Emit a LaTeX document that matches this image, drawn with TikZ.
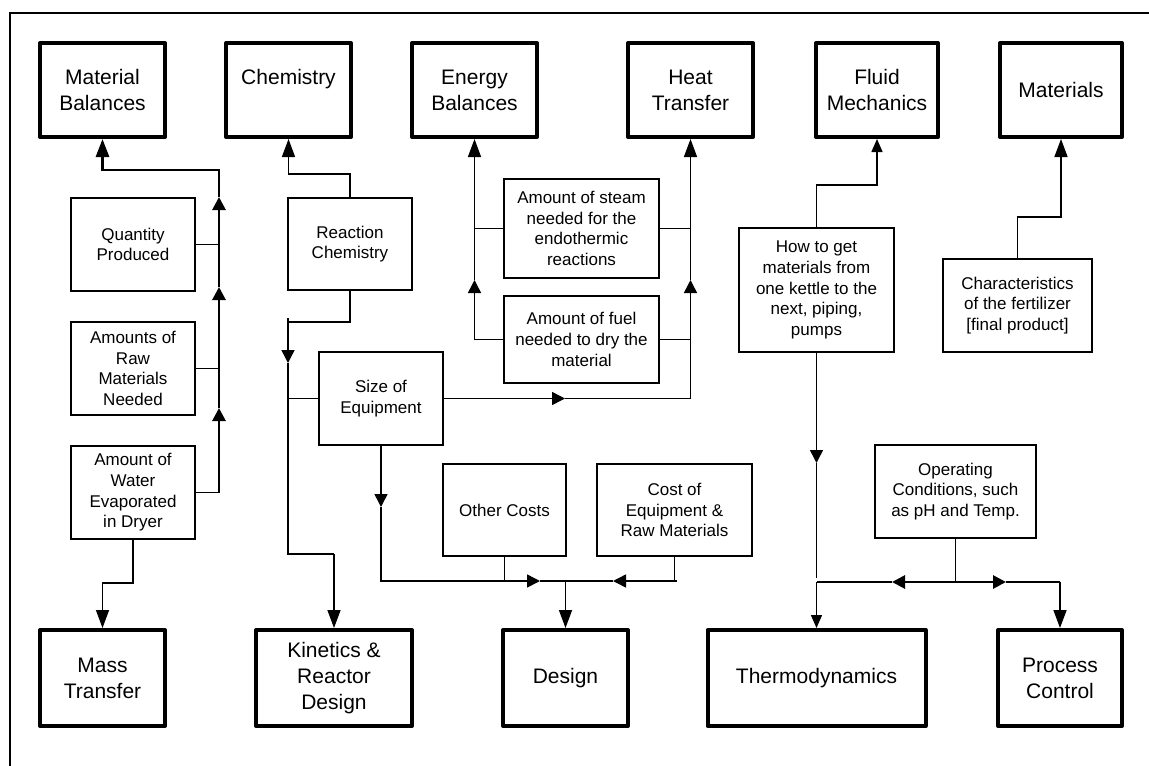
\documentclass[tikz,border=0pt]{standalone}
\usepackage{fontspec}
\setmainfont{Liberation Sans}
\usetikzlibrary{arrows.meta}
\newcommand\fbig{\fontsize{21}{26}\selectfont}
\newcommand\fsmall{\fontsize{17}{20.7}\selectfont}
\begin{document}
\begin{tikzpicture}[x=1pt,y=-1pt,
  bigbox/.style={draw=black, line width=4pt, line join=round, align=center, font=\fbig, inner sep=0pt},
  smallbox/.style={draw=black, line width=1.5pt, align=center, font=\fsmall, inner sep=0pt},
  conn/.style={line width=1.5pt},
  thickconn/.style={line width=2.8pt},
  endarr/.style={-{Triangle[length=18pt,width=13pt]}},
  smallendarr/.style={-{Triangle[length=13pt,width=11pt]}},
  midarr/.style={-{Triangle[length=13pt,width=13pt]}},
]
\useasboundingbox (0,0) rectangle (1149,766);
\fill[white] (0,0) rectangle (1149,766);
\draw[line width=2pt] (10,766) -- (10,13) -- (1149,13);

% top boxes
\node[bigbox, minimum width=125pt, minimum height=94pt] (MB) at (102.5,90) {Material\\Balances};
\node[bigbox, minimum width=125pt, minimum height=94pt] (Chem) at (288.5,90) {Chemistry\\\mbox{}};
\node[bigbox, minimum width=125pt, minimum height=94pt] (EB) at (474.5,90) {Energy\\Balances};
\node[bigbox, minimum width=125pt, minimum height=94pt] (HT) at (690.5,90) {Heat\\Transfer};
\node[bigbox, minimum width=122pt, minimum height=94pt] (FM) at (877,90) {Fluid\\Mechanics};
\node[bigbox, minimum width=122pt, minimum height=94pt] (Mat) at (1061,90) {Materials};

% bottom boxes
\node[bigbox, minimum width=125pt, minimum height=96pt] (Mass) at (102.5,678) {Mass\\Transfer};
\node[bigbox, minimum width=156pt, minimum height=96pt] (Kin) at (334,678) {Kinetics \&\\Reactor\\Design};
\node[bigbox, minimum width=125pt, minimum height=96pt] (Design) at (565.5,678) {Design};
\node[bigbox, minimum width=218pt, minimum height=96pt] (Thermo) at (816.5,678) {Thermodynamics};
\node[bigbox, minimum width=124pt, minimum height=96pt] (PC) at (1060,678) {Process\\Control};

% small boxes
\node[smallbox, minimum width=124pt, minimum height=93pt] (QP) at (133,244.5) {Quantity\\Produced};
\node[smallbox, minimum width=124pt, minimum height=93pt] (Raw) at (133,368.5) {Amounts of\\Raw\\Materials\\Needed};
\node[smallbox, minimum width=124pt, minimum height=93pt] (Water) at (133,492.5) {Amount of\\Water\\Evaporated\\in Dryer};
\node[smallbox, minimum width=124pt, minimum height=92pt] (RC) at (350,244) {Reaction\\Chemistry};
\node[smallbox, minimum width=155pt, minimum height=99pt] (Steam) at (581.5,228.5) {Amount of steam\\needed for the\\endothermic\\reactions};
\node[smallbox, minimum width=155pt, minimum height=87pt] (Fuel) at (581.5,339.5) {Amount of fuel\\needed to dry the\\material};
\node[smallbox, minimum width=124pt, minimum height=93pt] (Size) at (381,398.5) {Size of\\Equipment};
\node[smallbox, minimum width=123pt, minimum height=92pt] (Other) at (504.5,510) {Other Costs};
\node[smallbox, minimum width=155pt, minimum height=92pt] (Cost) at (674.5,510) {Cost of\\Equipment \&\\Raw Materials};
\node[smallbox, minimum width=155pt, minimum height=124pt] (How) at (816.5,290) {How to get\\materials from\\one kettle to the\\next, piping,\\pumps};
\node[smallbox, minimum width=149pt, minimum height=93pt] (Char) at (1017.5,305.5) {Characteristics\\of the fertilizer\\{[final product]}};
\node[smallbox, minimum width=161pt, minimum height=93pt] (Op) at (955.5,491.5) {Operating\\Conditions, such\\as pH and Temp.};

% Material Balances
\coordinate (mb1) at (219,492.5);
\coordinate (mbA) at (219,408);
\coordinate (mbB) at (219,287);
\coordinate (mbC) at (219,197);
\coordinate (mbTop) at (219,170);
\draw[conn] (Water.east) -- (mb1);
\draw[conn] (QP.east) -- (QP.east -| mb1);
\draw[conn] (Raw.east) -- (Raw.east -| mb1);
\draw[thickconn,midarr] (mb1) -- (mbA);
\draw[thickconn,midarr] (mbA) -- (mbB);
\draw[thickconn,midarr] (mbB) -- (mbC);
\draw[thickconn,endarr] (mbC) -- (mbTop) -| (MB.south);

% Mass transfer
\coordinate (ms1) at (133,583);
\draw[conn,endarr] (Water.south) -- (ms1) -| (Mass.north);

% Chemistry
\coordinate (ch1) at (350,174);
\draw[conn,endarr] (RC.north) -- (ch1) -| (Chem.south);

% Reaction chemistry -> size / kinetics
\coordinate (rc1) at (288,322);
\coordinate (rc0) at (288,318);
\coordinate (rcA) at (288,363);
\coordinate (rcJ) at (288,398.5);
\coordinate (rcB) at (288,554);
\coordinate (rcC) at (334,554);
\draw[conn] (RC.south) |- (rc1);
\draw[conn,midarr] (rc0) -- (rcA);
\draw[conn] (rcA) -- (rcJ);
\draw[conn] (Size.west) -- (rcJ);
\draw[thickconn] (rcJ) -- (rcB) -- (rcC);
\draw[conn,endarr] (rcC) -- (Kin.north);

% Size -> Heat transfer
\coordinate (szA) at (565,398.5);
\coordinate (szB) at (690.5,398.5);
\coordinate (htA) at (690.5,280);
\draw[conn,midarr] (Size.east) -- (szA);
\draw[conn,midarr] (szA) -- (szB) -- (htA);
\draw[conn,endarr] (htA) -- (HT.south);
\draw[conn] (Steam.east) -- (Steam.east -| HT.south);
\draw[conn] (Fuel.east) -- (Fuel.east -| HT.south);

% Energy balances
\coordinate (ebA) at (474.5,339.5);
\coordinate (ebB) at (474.5,280);
\draw[conn,midarr] (Fuel.west) -- (ebA) -- (ebB);
\draw[conn,endarr] (ebB) -- (EB.south);
\draw[conn] (Steam.west) -- (Steam.west -| EB.south);

% Design
\coordinate (dA) at (381,507);
\coordinate (dB) at (381,581);
\coordinate (dC) at (540,581);
\coordinate (dJ) at (565.5,581);
\coordinate (dD) at (613,581);
\coordinate (dE) at (677,581);
\draw[conn,midarr] (Size.south) -- (dA);
\draw[conn,midarr] (dA) -- (dB) -- (dC);
\draw[conn] (dC) -- (dJ);
\draw[conn] (Other.south) -- (Other.south |- dB);
\draw[conn] (Cost.south) -- (Cost.south |- dB);
\draw[conn,midarr] (dE) -- (dD);
\draw[conn] (dD) -- (dJ);
\draw[conn,endarr] (dJ) -- (Design.north);

% Fluid mechanics
\coordinate (fm1) at (816.5,185);
\draw[conn,smallendarr] (How.north) -- (fm1) -| (FM.south);

% Materials
\coordinate (mt1) at (1017.5,217);
\draw[conn,endarr] (Char.north) -- (mt1) -| (Mat.south);

% Thermodynamics / Process control
\coordinate (thA) at (816.5,463);
\coordinate (thE) at (816.5,578);
\coordinate (thJ) at (816.5,582);
\coordinate (opJ) at (955.5,582);
\coordinate (thB) at (892,582);
\coordinate (pcA) at (1006,582);
\coordinate (pcJ) at (1060,582);
\draw[conn,midarr] (How.south) -- (thA);
\draw[conn] (thA) -- (thE);
\draw[conn] (Op.south) -- (opJ);
\draw[thickconn,midarr] (opJ) -- (thB);
\draw[thickconn] (thB) -- (thJ);
\draw[conn,smallendarr] (thJ) -- (Thermo.north);
\draw[thickconn,midarr] (opJ) -- (pcA);
\draw[thickconn] (pcA) -- (pcJ);
\draw[conn,endarr] (pcJ) -- (PC.north);
\end{tikzpicture}
\end{document}
